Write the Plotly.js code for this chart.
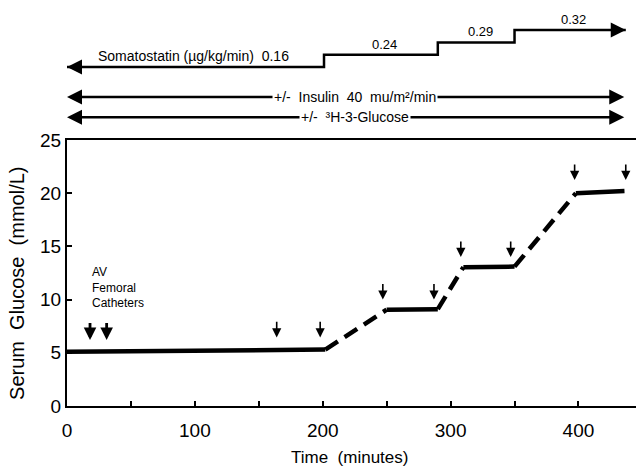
<!DOCTYPE html>
<html>
<head>
<meta charset="utf-8">
<script src="https://cdn.plot.ly/plotly-3.0.1.min.js"></script>
<style>html,body{margin:0;padding:0;background:#fff;}#chart{width:637px;height:471px;}</style>
</head>
<body>
<div id="chart"></div>
<script>
// ---- data ----
const timeMin = [0, 202, 250, 290, 310, 350, 398, 436];
const glucose = [5.1, 5.3, 9.05, 9.1, 13.05, 13.1, 20.0, 20.2];
// segment i connects point i -> i+1 : 's' solid (steady state), 'd' dashed (transition)
const segType = ['s', 'd', 's', 'd', 's', 'd', 's'];

const sampleTimes = [164, 198, 247, 287, 308, 347, 397, 437];
const sampleTips  = [6.45, 6.45, 10.0, 10.0, 14.0, 14.0, 21.25, 21.25];
const cathTimes = [18, 31];
const cathTips  = [6.2, 6.2];
const cathLabel = ['AV', 'Femoral', 'Catheters'];

const doseStepTimes = [0, 201, 290, 350];
const doses = ['0.16', '0.24', '0.29', '0.32'];
const infusionEnd = 437;

const xTickVals = [0, 50, 100, 150, 200, 250, 300, 350, 400];
const xTickText = ['0', '', '100', '', '200', '', '300', '', '400'];
const yTickVals = [0, 5, 10, 15, 20, 25];

// ---- build traces ----
function segTrace(kind) {
  const xs = [], ys = [];
  for (let i = 0; i < segType.length; i++) {
    if (segType[i] !== kind) continue;
    xs.push(timeMin[i], timeMin[i + 1], null);
    ys.push(glucose[i], glucose[i + 1], null);
  }
  return {
    x: xs, y: ys, type: 'scatter', mode: 'lines', hoverinfo: 'skip',
    line: {color: '#000', width: 4.5, dash: kind === 's' ? 'solid' : '15px,8px'},
    connectgaps: false, showlegend: false
  };
}

const stepX = doseStepTimes.concat([infusionEnd]);
const stepY = doseStepTimes.map((_, i) => i).concat([doseStepTimes.length - 1]);
const stepTrace = {
  x: stepX, y: stepY, type: 'scatter', mode: 'lines', xaxis: 'x', yaxis: 'y2',
  line: {color: '#000', width: 2.5, shape: 'hv'}, hoverinfo: 'skip', showlegend: false
};

const data = [segTrace('s'), segTrace('d'), stepTrace];

// ---- annotations ----
const F = 'Liberation Sans, Arial, Helvetica, sans-serif';
const nb = '\u00A0';
const ann = [];
function downArrow(x, tip, len, w, s) {
  ann.push({x: x, y: tip, xref: 'x', yref: 'y', axref: 'x', ayref: 'y', ax: x, ay: tip + len,
    text: '', showarrow: true, arrowhead: 2, arrowsize: s, arrowwidth: w, arrowcolor: '#000', standoff: 0});
}
sampleTimes.forEach((t, i) => downArrow(t, sampleTips[i], 1.6, 1.6, 1.15));
cathTimes.forEach((t, i) => downArrow(t, cathTips[i], 1.75, 2.8, 0.9));

ann.push({x: cathTimes[0], y: 11.1, xref: 'x', yref: 'y', xanchor: 'left', yanchor: 'middle',
  align: 'left', showarrow: false, text: cathLabel.join('<br>'),
  font: {family: F, size: 12, color: '#000'}});

// dose labels
ann.push({x: 175, y: 0, xref: 'x', yref: 'y2', xanchor: 'right', yanchor: 'middle', yshift: 11,
  showarrow: false, text: 'Somatostatin' + nb + '(µg/kg/min)' + nb + nb + doses[0],
  font: {family: F, size: 14, color: '#000'}});
for (let i = 1; i < doses.length; i++) {
  const x0 = doseStepTimes[i];
  const x1 = i + 1 < doseStepTimes.length ? doseStepTimes[i + 1] : infusionEnd;
  ann.push({x: (x0 + x1) / 2 + 3, y: i, xref: 'x', yref: 'y2', xanchor: 'center', yanchor: 'middle', yshift: 10.5,
    showarrow: false, text: doses[i], font: {family: F, size: 13, color: '#000'}});
}
// step line arrowheads
ann.push({x: 0, y: 0, xref: 'x', yref: 'y2', axref: 'pixel', ayref: 'pixel', ax: 14, ay: 0, text: '',
  showarrow: true, arrowhead: 2, arrowsize: 1.2, arrowwidth: 2.5, arrowcolor: '#000', standoff: 0});
ann.push({x: infusionEnd, y: doses.length - 1, xref: 'x', yref: 'y2', axref: 'pixel', ayref: 'pixel', ax: -14, ay: 0, text: '',
  showarrow: true, arrowhead: 2, arrowsize: 1.2, arrowwidth: 2.5, arrowcolor: '#000', standoff: 0});

// insulin and tracer rows
const rows = [
  {y: 0.7803, text: '+/-' + nb + nb + 'Insulin' + nb + nb + '40' + nb + nb + 'mu/m²/min'},
  {y: 0.7290, text: '+/-' + nb + nb + '³H-3-Glucose'}
];
rows.forEach(r => {
  ann.push({x: 0, y: r.y, xref: 'x', yref: 'paper', axref: 'x', ayref: 'pixel', ax: infusionEnd, ay: 0,
    text: '', showarrow: true, arrowhead: 2, startarrowhead: 2, arrowside: 'end+start',
    arrowsize: 1.2, startarrowsize: 1.2, arrowwidth: 2.5, arrowcolor: '#000', standoff: 0, startstandoff: 0});
  ann.push({x: 225.5, y: r.y, xref: 'x', yref: 'paper', xanchor: 'center', yanchor: 'middle',
    showarrow: false, text: r.text, bgcolor: '#fff', borderpad: 1,
    font: {family: F, size: 14, color: '#000'}});
});

// axis titles
ann.push({x: -0.0867, y: 0.31, xref: 'paper', yref: 'paper', xanchor: 'center', yanchor: 'middle',
  textangle: -90, showarrow: false, text: 'Serum' + nb + nb + 'Glucose' + nb + nb + '(mmol/L)',
  font: {family: F, size: 20, color: '#000'}});
ann.push({x: 0.497, y: -0.131, xref: 'paper', yref: 'paper', xanchor: 'center', yanchor: 'middle',
  showarrow: false, text: 'Time' + nb + nb + '(minutes)', font: {family: F, size: 17, color: '#000'}});

const layout = {
  width: 637, height: 471,
  margin: {l: 67, r: 1, t: 10, b: 65},
  paper_bgcolor: '#fff', plot_bgcolor: '#fff',
  font: {family: F, color: '#000'},
  xaxis: {
    range: [0, 445], tickvals: xTickVals, ticktext: xTickText,
    ticks: 'inside', ticklen: 5, tickwidth: 2, tickcolor: '#000',
    showline: true, linewidth: 2, linecolor: '#000', mirror: true,
    showgrid: false, zeroline: false, tickfont: {size: 19, family: F},
    ticklabelstandoff: 6, anchor: 'y'
  },
  yaxis: {
    domain: [0, 0.6717], range: [0, 25], tickvals: yTickVals,
    ticks: 'inside', ticklen: 5, tickwidth: 2, tickcolor: '#000',
    showline: true, linewidth: 2, linecolor: '#000', mirror: false,
    showgrid: false, zeroline: false, tickfont: {size: 19, family: F}
  },
  yaxis2: {
    domain: [0.6717, 1], range: [-5.935, 4.634], visible: false, anchor: 'x', fixedrange: true
  },
  annotations: ann,
  showlegend: false
};

Plotly.newPlot('chart', data, layout, {staticPlot: true, displayModeBar: false});
</script>
</body>
</html>
